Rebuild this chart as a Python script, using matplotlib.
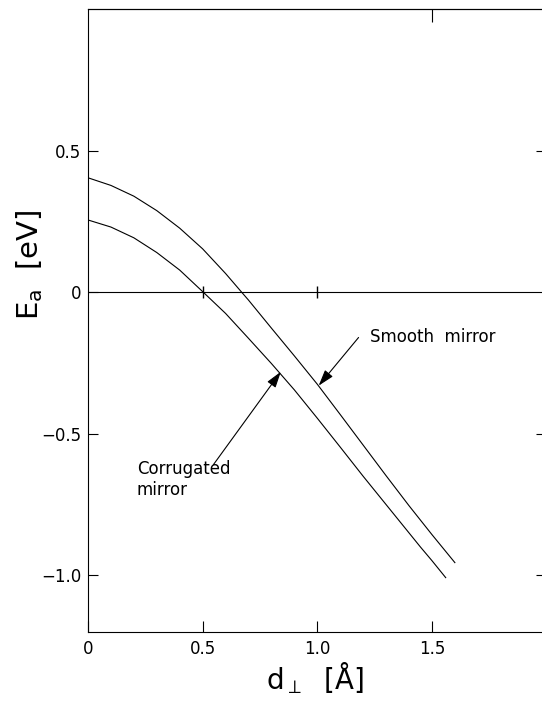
import matplotlib
matplotlib.use("Agg")
import matplotlib.pyplot as plt

# curves (d_perp in Angstrom, E_a in eV)
smooth_x = [0.0, 0.1, 0.2, 0.3, 0.4, 0.5, 0.6, 0.67, 0.7, 0.8, 0.9, 1.0,
            1.1, 1.2, 1.3, 1.4, 1.5, 1.6]
smooth_y = [0.404, 0.377, 0.339, 0.288, 0.226, 0.153, 0.066, 0.0, -0.028, -0.127,
            -0.225, -0.325, -0.432, -0.54, -0.648, -0.754, -0.856, -0.955]

corr_x = [0.0, 0.1, 0.2, 0.3, 0.4, 0.5, 0.6, 0.7, 0.8, 0.9, 1.0, 1.1, 1.2,
          1.3, 1.4, 1.45, 1.5, 1.53, 1.56]
corr_y = [0.255, 0.23, 0.192, 0.14, 0.078, 0.002, -0.075, -0.163, -0.252, -0.345,
          -0.445, -0.547, -0.65, -0.75, -0.85, -0.9, -0.948, -0.978, -1.008]

xticks = [0, 0.5, 1.0, 1.5]
xticklabels = ["0", "0.5", "1.0", "1.5"]
yticks = [-1.0, -0.5, 0, 0.5]
yticklabels = ["\u22121.0", "\u22120.5", "0", "0.5"]

fig = plt.figure(figsize=(5.42, 7.02), dpi=100)
ax = fig.add_axes([88 / 542, 70 / 702, 454 / 542, 623 / 702])

lw = 0.8
ax.plot(smooth_x, smooth_y, color="black", lw=lw)
ax.plot(corr_x, corr_y, color="black", lw=lw)
ax.axhline(0, color="black", lw=lw)
# small crossing ticks on the zero line
ax.plot([0.5, 1.0], [0, 0], ls="none", marker="|", ms=9, mew=1.0, color="black")

ax.set_xlim(0, 1.98)
ax.set_ylim(-1.2, 1.0)

ax.spines["right"].set_visible(False)
for s in ["left", "bottom", "top"]:
    ax.spines[s].set_linewidth(lw)

ax.set_xticks(xticks)
ax.set_xticklabels(xticklabels, fontsize=12)
ax.set_yticks(yticks)
ax.set_yticklabels(yticklabels, fontsize=12)
ax.tick_params(axis="x", direction="in", length=8, width=lw, pad=6)
ax.tick_params(axis="y", direction="in", length=7, width=lw, pad=5)

# top tick at 1.5 only
top = ax.secondary_xaxis("top")
top.set_xticks([1.5])
top.set_xticklabels([])
top.tick_params(direction="in", length=9, width=lw)
top.spines["top"].set_linewidth(lw)

# right ticks near the image edge
right = ax.secondary_yaxis("right")
right.set_yticks([0.5, -0.5, -1.0])
right.set_yticklabels([])
right.tick_params(direction="in", length=4, width=lw)
right.spines["right"].set_visible(False)

ax.set_xlabel("d$_\\perp$  [\u00c5]", fontsize=20)
ax.xaxis.set_label_coords(0.5, -0.045)
ax.set_ylabel("E$_\\mathrm{a}$  [eV]", fontsize=21)
ax.yaxis.set_label_coords(-0.094, 0.59)

arrow = dict(arrowstyle="-|>,head_length=0.7,head_width=0.22", color="black",
             lw=0.8, shrinkA=0, shrinkB=0, mutation_scale=14)
ax.annotate("", xy=(1.006, -0.33), xytext=(1.18, -0.16), arrowprops=arrow)
ax.text(1.23, -0.158, "Smooth  mirror", fontsize=12, ha="left", va="center")

ax.annotate("", xy=(0.841, -0.281), xytext=(0.547, -0.609), arrowprops=arrow)
ax.text(0.213, -0.662, "Corrugated\nmirror", fontsize=12, ha="left", va="center",
        linespacing=1.25)

fig.savefig("out.png", dpi=100)
